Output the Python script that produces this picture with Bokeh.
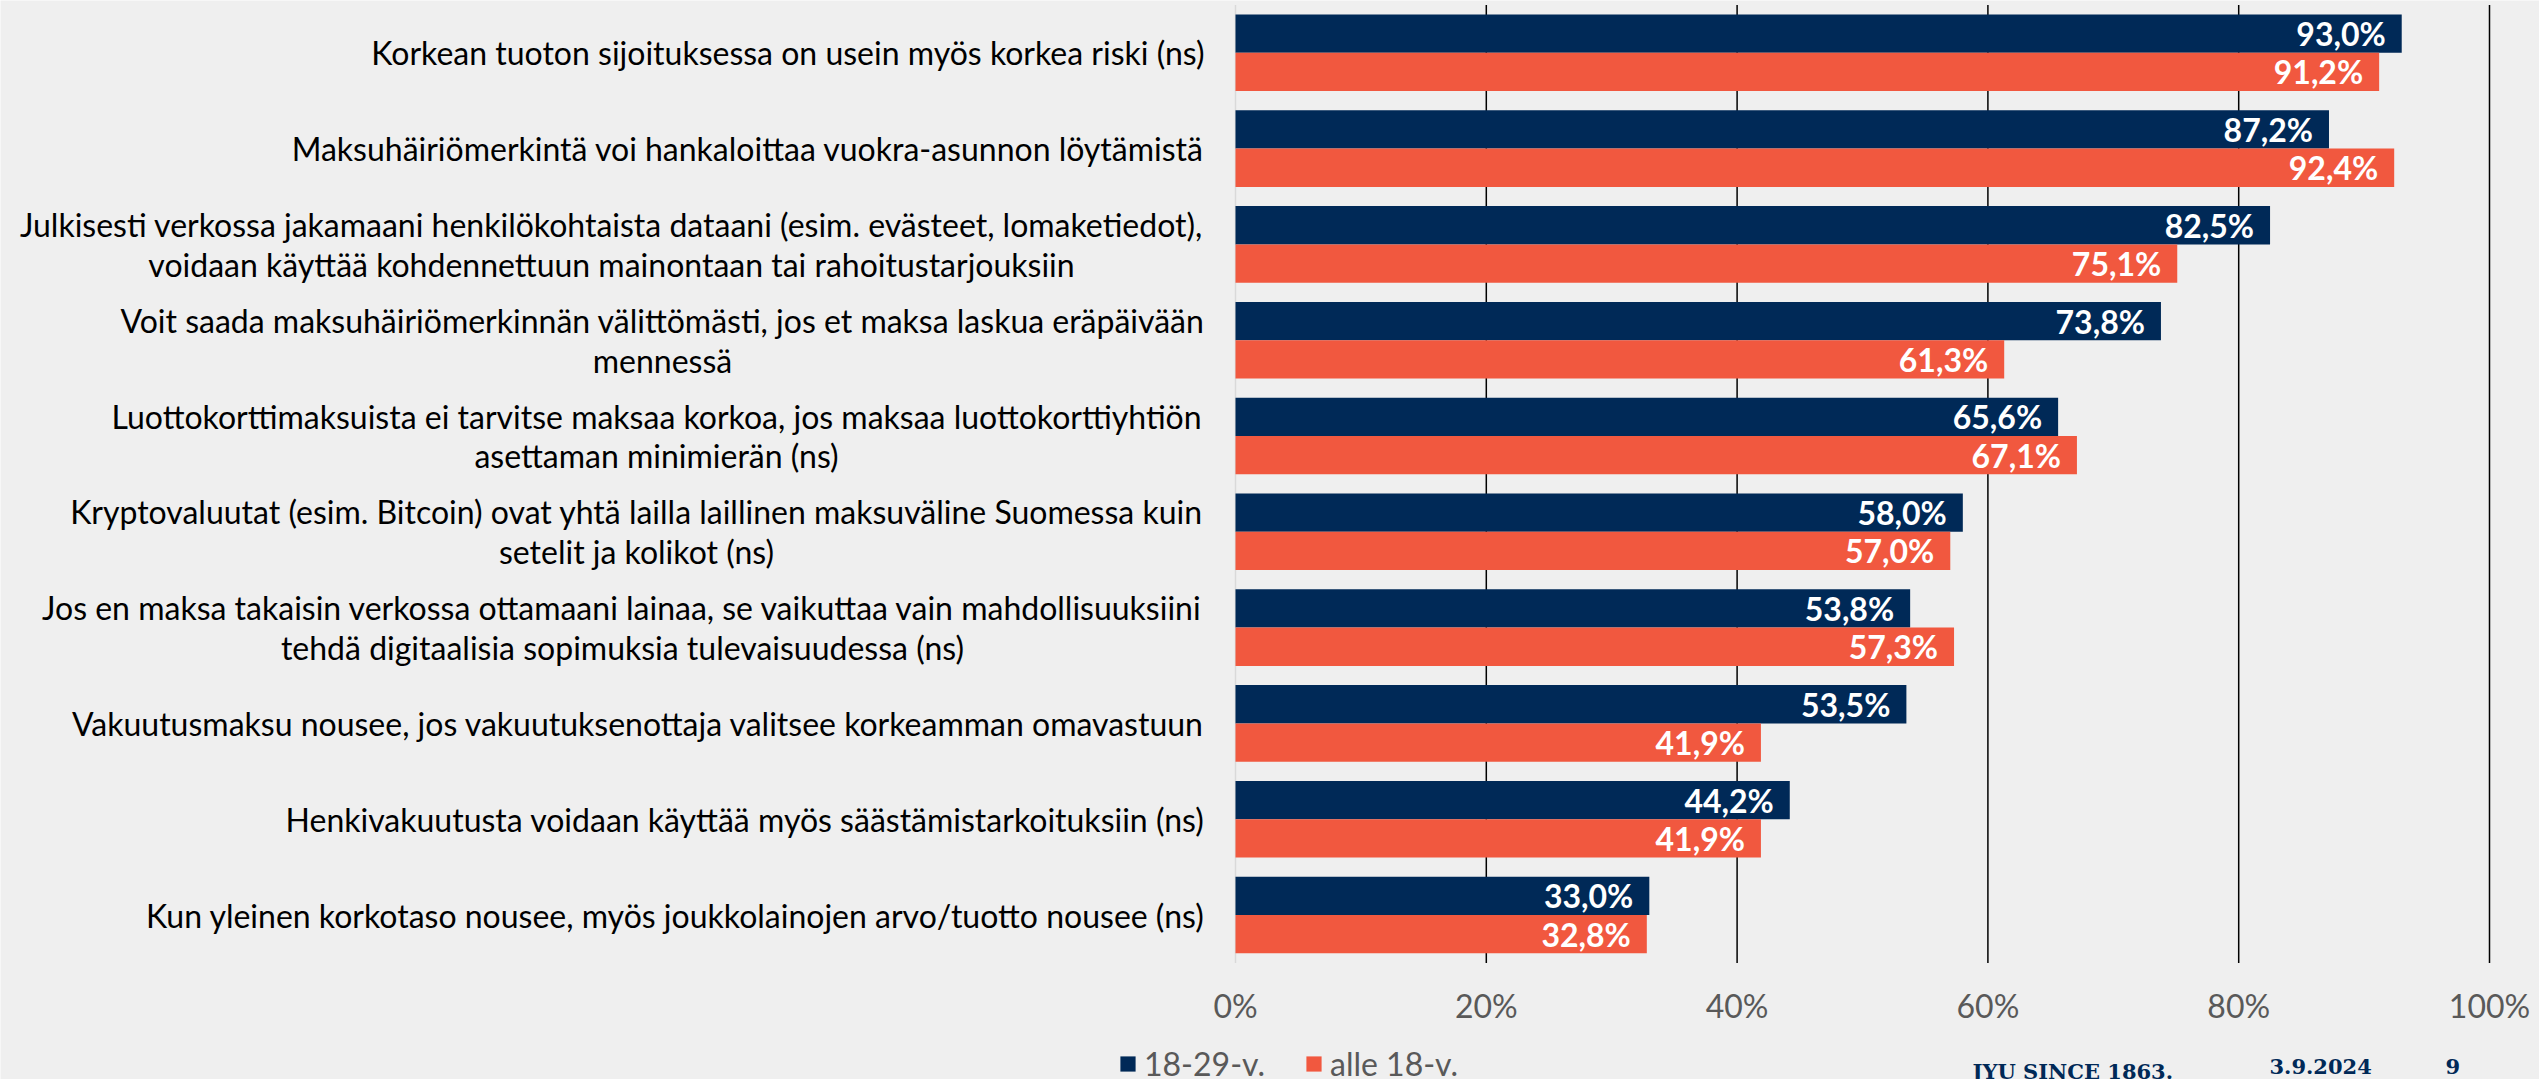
from bokeh.plotting import figure
from bokeh.models import Range1d, ColumnDataSource, Legend, LegendItem
from bokeh.core.properties import value
from bokeh.embed import file_html
from bokeh.resources import INLINE

# ---------------- data ----------------
categories = [
    "Korkean tuoton sijoituksessa on usein myös korkea riski (ns)",
    "Maksuhäiriömerkintä voi hankaloittaa vuokra-asunnon löytämistä",
    "Julkisesti verkossa jakamaani henkilökohtaista dataani (esim. evästeet, lomaketiedot),\nvoidaan käyttää kohdennettuun mainontaan tai rahoitustarjouksiin",
    "Voit saada maksuhäiriömerkinnän välittömästi, jos et maksa laskua eräpäivään\nmennessä",
    "Luottokorttimaksuista ei tarvitse maksaa korkoa, jos maksaa luottokorttiyhtiön\nasettaman minimierän (ns)",
    "Kryptovaluutat (esim. Bitcoin) ovat yhtä lailla laillinen maksuväline Suomessa kuin\nsetelit ja kolikot (ns)",
    "Jos en maksa takaisin verkossa ottamaani lainaa, se vaikuttaa vain mahdollisuuksiini\ntehdä digitaalisia sopimuksia tulevaisuudessa (ns)",
    "Vakuutusmaksu nousee, jos vakuutuksenottaja valitsee korkeamman omavastuun",
    "Henkivakuutusta voidaan käyttää myös säästämistarkoituksiin (ns)",
    "Kun yleinen korkotaso nousee, myös joukkolainojen arvo/tuotto nousee (ns)",
]
series_names = ["18-29-v.", "alle 18-v."]
young = [93.0, 87.2, 82.5, 73.8, 65.6, 58.0, 53.8, 53.5, 44.2, 33.0]
minors = [91.2, 92.4, 75.1, 61.3, 67.1, 57.0, 57.3, 41.9, 41.9, 32.8]
x_ticks = [0, 20, 40, 60, 80, 100]
footer_texts = ["JYU SINCE 1863.", "3.9.2024", "9"]

# ---------------- style / layout ----------------
NAVY = "#002957"
ORANGE = "#F1583F"
BG = "#EFEFEF"
FONT = "Lato"
FS = "32px"
W, H = 2539, 1079
BAR_H = 0.4
# horizontal offsets (px) of multi-line label centres from the 0% line
label_center_offsets = {2: -624, 3: -573, 4: -579, 5: -599, 6: -613}
footer_offsets = [737, 1034, 1210]

n = len(categories)
idx = list(range(n))
y_top, y_bot = -0.5, n - 0.5

p = figure(width=W, height=H, output_backend="svg", toolbar_location=None,
           x_range=Range1d(-98.485, 103.987), y_range=Range1d(10.717, -0.5459),
           x_axis_location=None, y_axis_location=None,
           min_border=0, min_border_left=0, min_border_right=0,
           min_border_top=0, min_border_bottom=0,
           background_fill_color=BG, border_fill_color=BG,
           outline_line_color=None)
p.xgrid.visible = False
p.ygrid.visible = False

# grid lines (0% line is light grey axis line)
grid_src = ColumnDataSource(dict(
    x=x_ticks, y0=[y_top] * len(x_ticks), y1=[y_bot] * len(x_ticks),
    color=["#D9D9D9"] + ["#000000"] * (len(x_ticks) - 1),
    lab=[f"{t}%" for t in x_ticks],
))
p.segment(x0="x", y0="y0", x1="x", y1="y1", line_color="color", line_width=1.5,
          source=grid_src)

# tick labels
p.text(x="x", y="y1", text="lab", source=grid_src, y_offset=43,
       text_align="center", text_baseline="middle", text_color="#595959",
       text_font=value(FONT), text_font_size=FS)

# bars
src = ColumnDataSource(dict(
    y_young=[i - BAR_H / 2 for i in idx],
    y_minor=[i + BAR_H / 2 for i in idx],
    young=young, minors=minors,
    lab_young=[f"{v:.1f}%".replace(".", ",") for v in young],
    lab_minor=[f"{v:.1f}%".replace(".", ",") for v in minors],
))
r1 = p.hbar(y="y_young", left=0, right="young", height=BAR_H, source=src,
            fill_color=NAVY, line_color=None)
r2 = p.hbar(y="y_minor", left=0, right="minors", height=BAR_H, source=src,
            fill_color=ORANGE, line_color=None)

p.text(x="young", y="y_young", text="lab_young", source=src, x_offset=-16,
       text_align="right", text_baseline="middle", text_color="white",
       text_font=value(FONT), text_font_style="bold", text_font_size=FS)
p.text(x="minors", y="y_minor", text="lab_minor", source=src, x_offset=-16,
       text_align="right", text_baseline="middle", text_color="white",
       text_font=value(FONT), text_font_style="bold", text_font_size=FS)

# category labels
cat_src = ColumnDataSource(dict(
    x=[0] * n, y=idx, text=categories,
    xo=[label_center_offsets.get(i, -31) for i in idx],
    align=["center" if i in label_center_offsets else "right" for i in idx],
))
p.text(x="x", y="y", text="text", source=cat_src, x_offset="xo",
       text_align="align", text_baseline="middle", text_line_height=1.02,
       text_color="#000000", text_font=value(FONT), text_font_size=FS)

# legend
legend = Legend(items=[LegendItem(label=series_names[0], renderers=[r1]),
                       LegendItem(label=series_names[1], renderers=[r2])],
                orientation="horizontal", location=(1118, -4),
                glyph_width=19, glyph_height=19, label_standoff=7, spacing=39,
                padding=0, margin=0, border_line_color=None,
                background_fill_alpha=0, label_text_font=FONT,
                label_text_font_size=FS, label_text_color="#595959",
                label_height=19)
p.add_layout(legend)

# footer
foot_src = ColumnDataSource(dict(x=[0] * len(footer_texts), y=[y_bot] * len(footer_texts),
                                 text=footer_texts, xo=footer_offsets))
p.text(x="x", y="y", text="text", source=foot_src, x_offset="xo", y_offset=96,
       text_align="left", text_baseline="top", text_color=NAVY,
       text_font=value("DejaVu Serif"), text_font_style="bold",
       text_font_size="21px")

open("out.html", "w").write(file_html(p, INLINE))
